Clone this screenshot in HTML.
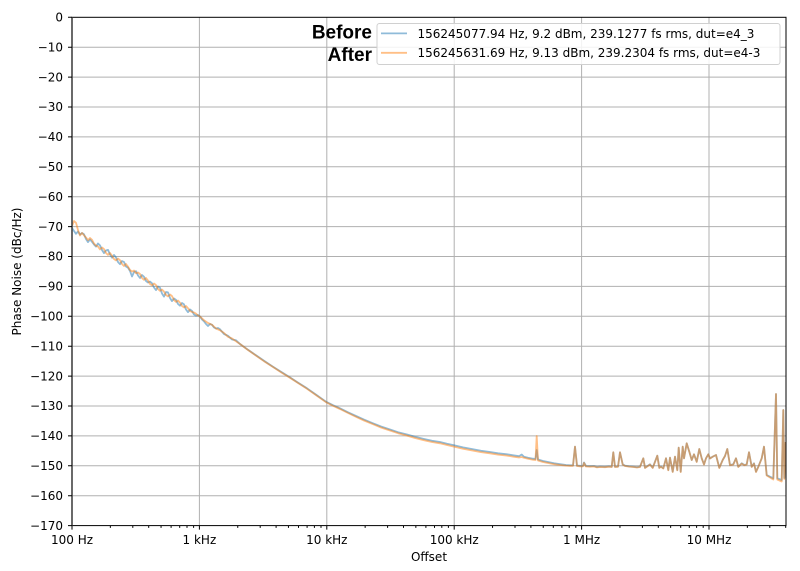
<!DOCTYPE html>
<html><head><meta charset="utf-8"><style>
html,body{margin:0;padding:0;background:#fff;}
svg{display:block;}
text{font-family:"DejaVu Sans","Liberation Sans",sans-serif;fill:#000;}
</style></head><body>
<svg width="800" height="571" viewBox="0 0 800 571" xmlns="http://www.w3.org/2000/svg">
<defs><clipPath id="ax"><rect x="72" y="17.3" width="714" height="508.3"/></clipPath></defs>
<rect width="800" height="571" fill="#fff"/>
<!-- grid -->
<g stroke="#b0b0b0" stroke-width="1" fill="none">
<path d="M72 47.2H786M72 77.1H786M72 107H786M72 136.9H786M72 166.8H786M72 196.7H786M72 226.6H786M72 256.5H786M72 286.4H786M72 316.3H786M72 346.2H786M72 376.1H786M72 406H786M72 435.9H786M72 465.8H786M72 495.7H786"/>
<path d="M199.4 17.3V525.6M326.8 17.3V525.6M454.2 17.3V525.6M581.6 17.3V525.6M709 17.3V525.6"/>
</g>
<!-- curves -->
<g clip-path="url(#ax)" fill="none" stroke-width="1.8" stroke-linejoin="round">
<polyline stroke="#1f77b4" stroke-opacity="0.5" points="72,228 74,231 76,233.8 78,231.5 80,234.5 82,233 84,234.3 86,239 88,242.1 90,239.5 92,241.8 94,244.5 96,246.6 98,243.5 100,245.4 102,250 104,253.1 106,250.5 108,249.9 110,254.5 112,257.7 114,255 116,257.4 118,262 120,264.2 122,261 124,262 126,266.5 128,267.7 130,271 132,276.5 134,272 136,271.2 138,275.5 140,278 142,275 144,276.8 146,281 148,282.5 150,281.5 152,283.3 154,287.5 156,290.1 158,286.5 160,287.8 162,293.5 164,296.6 166,292 168,292.4 170,298 172,301.1 174,298.5 176,299.9 178,304 180,305.7 182,303 184,304.4 186,309.5 188,312.2 190,309.5 192,311 194,314.5 196,315.7 198,315 200,316.5 202,319.5 204,321.3 206,324 208,326 210,324 212,324.8 214,327.5 216,328.5 218,328 220,329.3 224,334 228,335.8 232,339.5 236,340.3 240,344 248,349.8 256,355.3 264,360.8 273,366.7 281,371.8 290,377.4 298,382.6 307,388.3 316,394.6 326,401.7 333,405.2 340,408.3 348,412.3 356,416 364,419.6 373,423.3 381,426.5 390,429.5 398,432.2 407,434.5 415,436.8 424,439 432,440.8 440,442 447,443.8 454,445.3 463,447.4 473,449.3 481,450.8 490,452 498,453.3 507,454.3 513,455.3 519,456.2 521.7,454.5 524,456.8 528,457.8 533,458.7 535.5,459 536.7,450 538,459.5 543,461 548,462 554,463.3 560,464.2 566,465 570,465.3 573,465.3 575,446.7 577,465.5 580,465.8 582,466 583,465.8 584,462.5 586,466 590,466.2 594,466 597,467 600,466.5 605,466.8 609,466.3 611.7,466.7 613.3,452.3 615,466.7 618,466.5 620,452.3 622.7,464.3 625,465.7 629,466.3 633.3,466.7 637,467.2 640,466.7 643.3,458.3 645,467.7 650,464.3 652.7,467.7 655,461.7 657.3,455.7 659.3,467.7 661,466.5 663.3,468.3 666,458.3 668.3,470 670,457.7 672.7,471.7 675,456.7 677.3,470 678.7,447.7 680.7,471.7 682.7,446.7 684,458.3 686.7,443.3 689.3,451.7 691.7,460 694,454.3 696.7,461.7 699.3,449 701.7,458.3 704,464.3 706,458.3 708.3,454.3 710,458.3 712.7,456.7 716,455 719.3,467.7 722.7,460 725,456 727.3,449 730,465 733.3,464.3 736,458.3 738.3,466.7 741.7,463.3 744.3,465 746.7,464.3 749,452.3 751.7,466.7 754,463.3 756,471.7 758.3,466.7 761.7,458.3 764,446.7 766.7,475 770,476.7 773.3,478.3 776,394 777.3,478.3 781.7,480 783.3,410 784.3,478 785.7,442"/>
<polyline stroke="#ff7f0e" stroke-opacity="0.5" points="72,226 74,221 76,222.8 78,230 80,235.5 82,233 84,235.3 86,237.5 88,240.1 90,238 92,239.8 94,243.5 96,245.6 98,246.5 100,249.4 102,247.5 104,249.1 106,253 108,254.9 110,253 112,255.7 114,259 116,260.4 118,258.5 120,260.2 122,264 124,266 126,264 128,266.7 130,270 132,271.5 134,270.5 136,273.2 138,272.5 140,274 142,278 144,279.8 146,278 148,280.5 150,284 152,285.3 154,283.5 156,285.1 158,289 160,290.8 162,289.5 164,291.6 166,295 168,296.4 170,294.5 172,296.1 174,300 176,301.9 178,300.5 180,302.7 182,306 184,307.4 186,306 188,308.2 190,311 192,312 194,312.5 196,313.7 198,315.5 200,316.5 204,320.3 208,323 212,324.8 216,328.5 220,330.3 224,333 228,336.8 232,338.5 236,341.3 240,344 248,350 256,355.6 264,361.2 273,367 281,372.2 290,377.8 298,383 307,388.8 316,395.1 326,402.2 333,405.8 340,409 348,413 356,416.8 364,420.5 373,424.2 381,427.5 390,430.5 398,433.2 407,435.6 415,438 424,440.2 432,442 440,443.3 447,445 454,446.6 463,448.7 473,450.6 481,452.1 490,453.3 498,454.6 507,455.6 513,456.6 519,457.5 521.7,457 524,457.8 528,458.8 533,459.7 535.5,460 536.7,436 538,460.5 543,462 548,463 554,464.2 560,465 566,465.6 570,465.8 573,465.8 575,446.7 577,466 580,466.3 582,466.5 583,466.3 584,463 586,466.5 590,466.7 594,466.5 597,467.4 600,467 605,467.2 609,466.7 611.7,467 613.3,452.3 615,467 618,466.8 620,452.3 622.7,464.6 625,466 629,466.6 633.3,467 637,467.5 640,467 643.3,458.3 645,468 650,464.6 652.7,468 655,462 657.3,455.7 659.3,468 661,466.8 663.3,468.6 666,458.3 668.3,470.3 670,457.7 672.7,472 675,456.7 677.3,470.3 678.7,447.7 680.7,472 682.7,446.7 684,458.3 686.7,443.3 689.3,451.7 691.7,460 694,454.3 696.7,462 699.3,449 701.7,458.3 704,464.6 706,458.3 708.3,454.3 710,458.6 712.7,456.7 716,455 719.3,468 722.7,460 725,456 727.3,449 730,465.3 733.3,464.6 736,458.3 738.3,467 741.7,463.6 744.3,465.3 746.7,464.6 749,452.3 751.7,467 754,463.6 756,472 758.3,467 761.7,458.3 764,446.7 766.7,475.5 770,477.5 773.3,479.5 776,394 777.3,479.5 781.7,481.5 783.3,410 784.3,479 785.7,442"/>
</g>
<!-- spines -->
<rect x="72" y="17.3" width="714" height="508.3" fill="none" stroke="#000" stroke-width="1"/>
<line x1="72" y1="17.3" x2="72" y2="525.6" stroke="#444" stroke-width="1.6"/>
<!-- ticks -->
<g stroke="#000" stroke-width="1" fill="none">
<path d="M72 525.6v4M199.4 525.6v4M326.8 525.6v4M454.2 525.6v4M581.6 525.6v4M709 525.6v4"/>
<path d="M110.35 525.6v2.3M132.8 525.6v2.3M148.7 525.6v2.3M161.05 525.6v2.3M171.1 525.6v2.3M179.7 525.6v2.3M187 525.6v2.3M193.6 525.6v2.3M237.75 525.6v2.3M260.2 525.6v2.3M276.1 525.6v2.3M288.45 525.6v2.3M298.5 525.6v2.3M307.1 525.6v2.3M314.4 525.6v2.3M321 525.6v2.3M365.15 525.6v2.3M387.6 525.6v2.3M403.5 525.6v2.3M415.85 525.6v2.3M425.9 525.6v2.3M434.5 525.6v2.3M441.8 525.6v2.3M448.4 525.6v2.3M492.55 525.6v2.3M515 525.6v2.3M530.9 525.6v2.3M543.25 525.6v2.3M553.3 525.6v2.3M561.9 525.6v2.3M569.2 525.6v2.3M575.8 525.6v2.3M619.95 525.6v2.3M642.4 525.6v2.3M658.3 525.6v2.3M670.65 525.6v2.3M680.7 525.6v2.3M689.3 525.6v2.3M696.6 525.6v2.3M703.2 525.6v2.3M747.35 525.6v2.3M769.8 525.6v2.3M785.7 525.6v2.3"/>
<path d="M72 17.3h-4M72 47.2h-4M72 77.1h-4M72 107h-4M72 136.9h-4M72 166.8h-4M72 196.7h-4M72 226.6h-4M72 256.5h-4M72 286.4h-4M72 316.3h-4M72 346.2h-4M72 376.1h-4M72 406h-4M72 435.9h-4M72 465.8h-4M72 495.7h-4M72 525.6h-4"/>
</g>
<!-- y tick labels -->
<g font-size="12" text-anchor="end">
<text x="63" y="21.5">0</text>
<text x="63" y="51.4">−10</text>
<text x="63" y="81.3">−20</text>
<text x="63" y="111.2">−30</text>
<text x="63" y="141.1">−40</text>
<text x="63" y="171">−50</text>
<text x="63" y="200.9">−60</text>
<text x="63" y="230.8">−70</text>
<text x="63" y="260.7">−80</text>
<text x="63" y="290.6">−90</text>
<text x="63" y="320.5">−100</text>
<text x="63" y="350.4">−110</text>
<text x="63" y="380.3">−120</text>
<text x="63" y="410.2">−130</text>
<text x="63" y="440.1">−140</text>
<text x="63" y="470">−150</text>
<text x="63" y="499.9">−160</text>
<text x="63" y="529.8">−170</text>
</g>
<!-- x tick labels -->
<g font-size="12" text-anchor="middle">
<text x="72" y="544">100 Hz</text>
<text x="199.4" y="544">1 kHz</text>
<text x="326.8" y="544">10 kHz</text>
<text x="454.2" y="544">100 kHz</text>
<text x="581.6" y="544">1 MHz</text>
<text x="709" y="544">10 MHz</text>
</g>
<text x="429" y="561" font-size="12" text-anchor="middle">Offset</text>
<text transform="translate(21,271.5) rotate(-90)" font-size="12" text-anchor="middle">Phase Noise (dBc/Hz)</text>
<!-- legend -->
<rect x="377" y="23.5" width="403" height="41" rx="2.5" fill="#fff" fill-opacity="0.85" stroke="#d0d0d0" stroke-width="1"/>
<line x1="381" y1="33.4" x2="407" y2="33.4" stroke="#8fbbd9" stroke-width="1.8"/>
<line x1="381" y1="52.8" x2="407" y2="52.8" stroke="#ffbf86" stroke-width="1.8"/>
<text x="417.5" y="37.8" font-size="12">156245077.94 Hz, 9.2 dBm, 239.1277 fs rms, dut=e4_3</text>
<text x="417.5" y="57.2" font-size="12">156245631.69 Hz, 9.13 dBm, 239.2304 fs rms, dut=e4-3</text>
<g font-weight="bold" font-size="19" text-anchor="end">
<text x="372" y="38.5" style="font-family:'Liberation Sans',Arial,sans-serif">Before</text>
<text x="372" y="61" style="font-family:'Liberation Sans',Arial,sans-serif">After</text>
</g>
</svg>
</body></html>
